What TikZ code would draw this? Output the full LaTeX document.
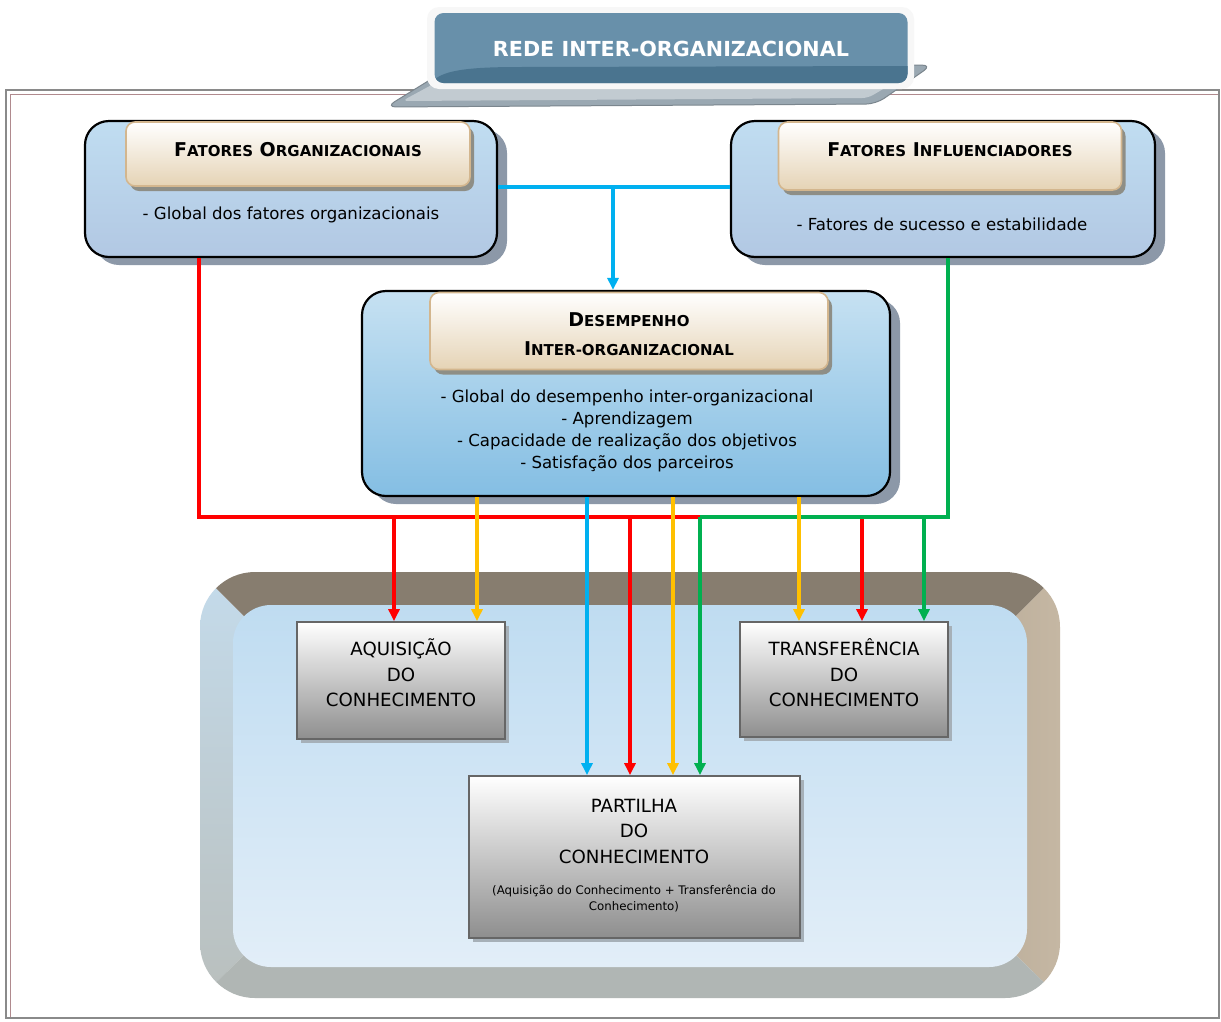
\documentclass[tikz,border=0pt]{standalone}
\usepackage{fontspec}
\setmainfont{DejaVu Sans}
\usetikzlibrary{arrows.meta,shadows,calc}
\definecolor{cRed}{HTML}{FF0000}
\definecolor{cYel}{HTML}{FFC000}
\definecolor{cBlu}{HTML}{00B0F0}
\definecolor{cGrn}{HTML}{00B050}
\definecolor{boxTop}{HTML}{C0DDF1}
\definecolor{boxBot}{HTML}{B2C8E3}
\definecolor{diTop}{HTML}{C6E1F2}
\definecolor{diBot}{HTML}{84BEE3}
\definecolor{shBlue}{HTML}{8C98A8}
\definecolor{hdTop}{HTML}{FFFFFF}
\definecolor{hdBot}{HTML}{E5D3B5}
\definecolor{hdLine}{HTML}{D3B68E}
\definecolor{shHd}{HTML}{8E8E86}
\definecolor{gbLine}{HTML}{666666}
\definecolor{gbBot}{HTML}{8E8E8E}
\definecolor{shGray}{HTML}{A6B0B8}
\definecolor{frGray}{HTML}{8A8A8A}
\definecolor{frPink}{HTML}{B08A8E}
\definecolor{ttBlue}{HTML}{6890AA}
\definecolor{ttDark}{HTML}{4A748F}
\definecolor{ttShadow}{HTML}{9AA8B2}
\definecolor{bvTop}{HTML}{877D6F}
\definecolor{bvRight}{HTML}{C5B7A3}
\definecolor{bvLeftT}{HTML}{C4DBEB}
\definecolor{bvLeftB}{HTML}{B9BFBD}
\definecolor{bvBot}{HTML}{B0B6B4}
\definecolor{faceTop}{HTML}{BFDCF1}
\definecolor{faceBot}{HTML}{E2EEF8}
\newcommand\fsc[1]{{\fontsize{15}{17}\selectfont #1}}
\tikzset{
  bigbox/.style={rounded corners=24pt, draw=black, line width=2.2pt,
    top color=boxTop, bottom color=boxBot,
    drop shadow={shadow xshift=10pt, shadow yshift=-8pt, fill=shBlue, opacity=1}},
  dibox/.style={bigbox, top color=diTop, bottom color=diBot},
  header/.style={rounded corners=9pt, draw=hdLine, line width=1.6pt,
    top color=hdTop, bottom color=hdBot,
    drop shadow={shadow xshift=4pt, shadow yshift=-5pt, fill=shHd, opacity=1}},
  graybox/.style={draw=gbLine, line width=1.8pt, top color=white, bottom color=gbBot,
    drop shadow={shadow xshift=4pt, shadow yshift=-4pt, fill=shGray, opacity=1}},
  htext/.style={font=\bfseries\fontsize{19}{22}\selectfont, align=center, inner sep=0pt},
  btext/.style={font=\fontsize{16.6}{22}\selectfont, align=center, inner sep=0pt},
  gtext/.style={font=\fontsize{18.2}{25.5}\selectfont, align=center, inner sep=0pt},
  stext/.style={font=\fontsize{11.8}{16}\selectfont, align=center, inner sep=0pt},
  conn/.style={line width=3.6pt, -{Triangle[length=12pt,width=11pt]}},
  bus/.style={line width=3.6pt},
}
\begin{document}
\begin{tikzpicture}[x=1pt,y=-1pt]
\useasboundingbox (0,0) rectangle (1221,1021);
\fill[white] (0,0) rectangle (1221,1021);
% outer frame
\draw[frGray, line width=2.2pt] (6,90) rectangle (1219,1018);
\draw[frPink, line width=1.8pt] (10.5,1016.5) -- (10.5,94.5) -- (1217.5,94.5);
% title shadow
\draw[ttShadow!80!black, fill=ttShadow, line width=1pt, rounded corners=10pt]
  (386,107) -- (446,70) -- (932,65) -- (876,104) -- cycle;
\fill[ttShadow!60!white, rounded corners=6pt] (402,101) -- (450,75) -- (915,70) -- (868,98) -- cycle;
% title
\fill[white!94!gray, rounded corners=12pt] (427,7) rectangle (914,89);
\node[fill=ttBlue, rounded corners=9pt, minimum width=473pt, minimum height=70pt, inner sep=0pt] (title) at (671,48) {};
\begin{scope}
\clip[rounded corners=9pt] (434.5,13) rectangle (907.5,83);
\fill[ttDark] (434,83) -- (434,80) .. controls (445,70) and (470,67) .. (520,67) -- (908,66) -- (908,83) -- cycle;
\end{scope}
\node[font=\bfseries\fontsize{20.7}{24}\selectfont, text=white, inner sep=0pt] (titletext) at (671,49) {REDE INTER-ORGANIZACIONAL};
% lower container (bevelled frame with mitred corners)
\begin{scope}
\clip[rounded corners=55pt] (200,572) rectangle (1060,998);
\shade[top color=bvLeftT, bottom color=bvLeftB] (200,572) -- (273,645) -- (273,927) -- (200,998) -- cycle;
\fill[bvTop] (200,572) -- (1060,572) -- (987,645) -- (273,645) -- cycle;
\shade[left color=bvRight!85!bvTop, right color=bvRight] (1060,572) -- (1060,998) -- (987,927) -- (987,645) -- cycle;
\fill[bvBot] (200,998) -- (273,927) -- (987,927) -- (1060,998) -- cycle;
\end{scope}
\shade[rounded corners=38pt, top color=faceTop, bottom color=faceBot] (233,605) rectangle (1027,967);
% top boxes
\node[bigbox, minimum width=412pt, minimum height=136pt] (FO) at (291,189) {};
\node[header, minimum width=344pt, minimum height=64pt] (FOh) at (298,154) {};
\node[htext] (FOht) at (298,150) {F\fsc{ATORES} O\fsc{RGANIZACIONAIS}};
\node[btext] (FOt) at (291,215) {- Global dos fatores organizacionais};
\node[bigbox, minimum width=424pt, minimum height=136pt] (FI) at (943,189) {};
\node[header, minimum width=343pt, minimum height=68pt] (FIh) at (950,156) {};
\node[htext] (FIht) at (950,150) {F\fsc{ATORES} I\fsc{NFLUENCIADORES}};
\node[btext] (FIt) at (942,224) {- Fatores de sucesso e estabilidade};
% middle box
\node[dibox, minimum width=528pt, minimum height=205pt] (DI) at (626,393.5) {};
\node[header, minimum width=398pt, minimum height=77pt] (DIh) at (629,331) {};
\node[htext, font=\bfseries\fontsize{19}{29}\selectfont] (DIht) at (629,334) {D\fsc{ESEMPENHO}\\ I\fsc{NTER-ORGANIZACIONAL}};
\node[btext] (DIt) at (627,431) {- Global do desempenho inter-organizacional\\ - Aprendizagem\\ - Capacidade de realização dos objetivos\\ - Satisfação dos parceiros};
% lower boxes
\node[graybox, minimum width=208pt, minimum height=117pt] (AQ) at (401,680.5) {};
\node[gtext] (AQt) at (401,673) {AQUISIÇÃO\\ DO\\ CONHECIMENTO};
\node[graybox, minimum width=208pt, minimum height=115pt] (TR) at (844,679.5) {};
\node[gtext] (TRt) at (844,673) {TRANSFERÊNCIA\\ DO\\ CONHECIMENTO};
\node[graybox, minimum width=331pt, minimum height=162pt] (PA) at (634.5,857) {};
\node[gtext] (PAt) at (634,831) {PARTILHA\\ DO\\ CONHECIMENTO};
\node[stext] (PAs) at (634,899) {(Aquisição do Conhecimento + Transferência do\\ Conhecimento)};
% bus coordinates
\coordinate (bj) at (613,187);
\coordinate (rbus) at (199,517);
\coordinate (rA) at (394,517);
\coordinate (rP) at (630,517);
\coordinate (rT) at (862,517);
\coordinate (gbus) at (948,517);
\coordinate (gP) at (700,517);
\coordinate (gT) at (924,517);
\coordinate (yA) at (477,517);
\coordinate (yP) at (673,517);
\coordinate (yT) at (799,517);
\coordinate (bP) at (587,517);
% blue connectors
\draw[bus, cBlu] (FO.east |- bj) -- (FI.west |- bj);
\draw[conn, cBlu] (bj) -- (bj |- DI.north);
% red
\draw[bus, cRed] (FO.south -| rbus) |- (rT);
\draw[conn, cRed] (rA) -- (rA |- AQ.north);
\draw[conn, cRed] (rP) -- (rP |- PA.north);
\draw[conn, cRed] (rT) -- (rT |- TR.north);
% green
\draw[bus, cGrn] (FI.south -| gbus) |- (gP);
\draw[conn, cGrn] (gP) -- (gP |- PA.north);
\draw[conn, cGrn] (gT) -- (gT |- TR.north);
% yellow
\draw[conn, cYel] (DI.south -| yA) -- (yA |- AQ.north);
\draw[conn, cYel] (DI.south -| yP) -- (yP |- PA.north);
\draw[conn, cYel] (DI.south -| yT) -- (yT |- TR.north);
% blue from DI
\draw[conn, cBlu] (DI.south -| bP) -- (bP |- PA.north);
\end{tikzpicture}
\end{document}
